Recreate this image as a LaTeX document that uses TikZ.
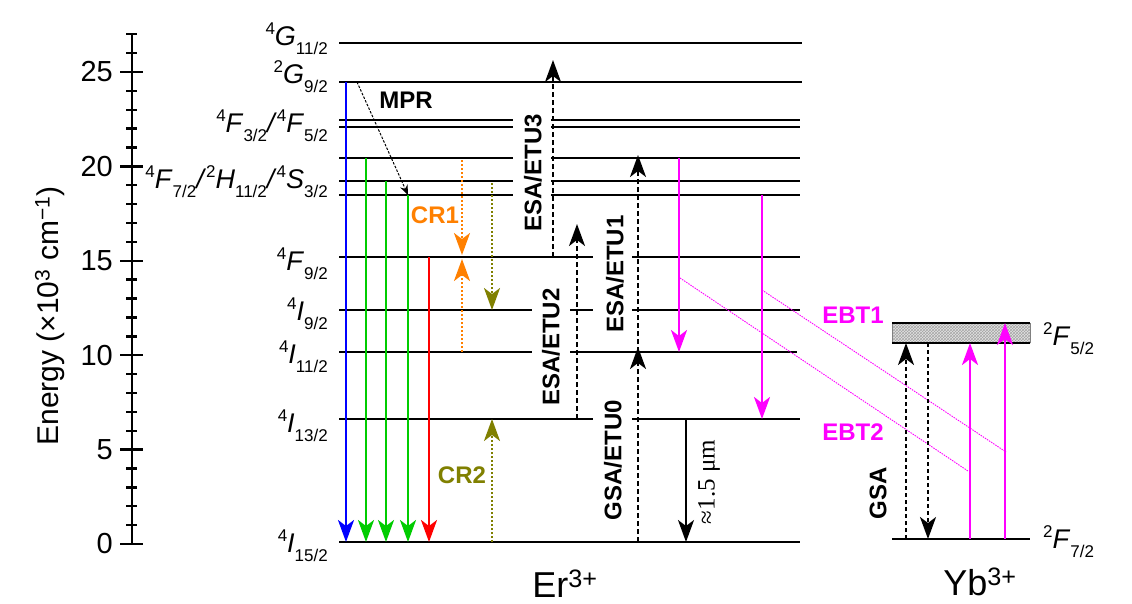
\documentclass[tikz,border=0pt]{standalone}
\usepackage{fontspec}
\setmainfont{Liberation Sans}
\newfontfamily\serifft{Liberation Serif}
\usetikzlibrary{arrows.meta,patterns}
\definecolor{cgreen}{RGB}{0,204,0}
\definecolor{corange}{RGB}{255,128,0}
\definecolor{colive}{RGB}{128,128,0}
\definecolor{cmag}{RGB}{255,0,255}
\newcommand{\trm}[3]{\raisebox{11pt}{\fontsize{17}{17}\selectfont #1}\textit{#2}\raisebox{-9pt}{\fontsize{17}{17}\selectfont #3}}
\begin{document}
\begin{tikzpicture}[x=1pt,y=-1pt,
  lev/.style={line width=2.8pt},
  bigtip/.style={-{Stealth[length=22pt,width=16pt,inset=6pt]}},
  emi/.style={bigtip,line width=2.6pt},
  dsh/.style={bigtip,line width=2pt,dash pattern=on 5pt off 3pt},
  dtt/.style={bigtip,line width=2.2pt,dash pattern=on 2pt off 2pt},
  ebt/.style={cmag,line width=0.9pt,dash pattern=on 1.5pt off 1pt},
  axl/.style={line width=2.6pt},
  plbl/.style={font=\fontsize{24}{24}\selectfont\bfseries,inner sep=0pt},
  term/.style={font=\fontsize{27}{27}\selectfont,anchor=base east,inner sep=0pt},
  tick/.style={font=\fontsize{29}{29}\selectfont,anchor=east,inner sep=0pt},
]
\useasboundingbox (0,0) rectangle (1132,603);
\fill[white] (0,0) rectangle (1132,603);
% level heights
\def\yA{43}\def\yB{82}\def\yC{120}\def\yCC{127}\def\yD{158}\def\yE{181}\def\yF{195}
\def\yG{257}\def\yH{310}\def\yI{352}\def\yJ{419}\def\yK{542}
% axis
\draw[axl] (132,544) -- (132,34);
\foreach \e in {0,...,27} \draw[line width=2.4pt] (126,{544-18.88*\e}) -- (137,{544-18.88*\e});
\foreach \e in {0,5,...,25} {
  \draw[line width=2.4pt] (120,{544-18.88*\e}) -- (143,{544-18.88*\e});
  \node[tick] (t\e) at (113,{544-18.88*\e}) {\e};
}
\node[rotate=90,font=\fontsize{30}{30}\selectfont] (ylab) at (50,316) {Energy (\texttimes10\textsuperscript{3} cm\textsuperscript{\textminus1})};
% Er levels
\draw[lev] (339,\yA) -- (802,\yA);
\draw[lev] (339,\yB) -- (802,\yB);
\foreach \y in {\yC,\yCC,\yD,\yE,\yF} {
  \draw[lev] (339,\y) -- (513,\y);
  \draw[lev] (551,\y) -- (800,\y);
}
\draw[lev] (339,\yG) -- (593,\yG);  \draw[lev] (632,\yG) -- (800,\yG);
\draw[lev] (339,\yH) -- (532,\yH);  \draw[lev] (570,\yH) -- (593,\yH); \draw[lev] (632,\yH) -- (800,\yH);
\draw[lev] (339,\yI) -- (532,\yI);  \draw[lev] (570,\yI) -- (797,\yI);
\draw[lev] (339,\yJ) -- (593,\yJ);  \draw[lev] (632,\yJ) -- (800,\yJ);
\draw[lev] (339,\yK) -- (800,\yK);
% term labels
\node[term] (lA) at (328,45) {\trm{4}{G}{11/2}};
\node[term] (lB) at (328,83) {\trm{2}{G}{9/2}};
\node[term] (lC) at (328,132) {\trm{4}{F}{3/2}\textit{/}\trm{4}{F}{5/2}};
\node[term] (lD) at (328,188) {\trm{4}{F}{7/2}\textit{/}\trm{2}{H}{11/2}\textit{/}\trm{4}{S}{3/2}};
\node[term] (lG) at (328,270) {\trm{4}{F}{9/2}};
\node[term] (lH) at (328,320) {\trm{4}{I}{9/2}};
\node[term] (lI) at (328,363) {\trm{4}{I}{11/2}};
\node[term] (lJ) at (328,432) {\trm{4}{I}{13/2}};
\node[term] (lK) at (328,552) {\trm{4}{I}{15/2}};
% emissions
\draw[emi,blue] (346,\yB) -- (346,\yK);
\draw[emi,cgreen] (366,\yD) -- (366,\yK);
\draw[emi,cgreen] (386,\yE) -- (386,\yK);
\draw[emi,cgreen] (408,\yF) -- (408,\yK);
\draw[emi,red] (429,\yG) -- (429,\yK);
% MPR
\draw[line width=1pt,dash pattern=on 2.5pt off 1.5pt,-{Stealth[length=10pt,width=8pt]}] (357,\yB) -- (408,\yF);
\node[plbl] (mpr) at (406,100) {MPR};
% CR1
\draw[dtt,corange] (462,160) -- (462,255);
\draw[dtt,corange] (462,\yI) -- (462,259);
\node[plbl,text=corange] (cr1) at (435,215) {CR1};
% olive / CR2
\draw[dtt,colive] (492,183) -- (492,\yH);
\draw[dtt,colive] (492,\yK) -- (492,\yJ);
\node[plbl,text=colive] (cr2) at (462,475) {CR2};
% ESA / ETU
\draw[dsh] (553,\yG) -- (553,60);
\node[plbl,rotate=90] (e3) at (533,173) {ESA/ETU3};
\draw[dsh] (577,\yJ) -- (577,224);
\node[plbl,rotate=90] (e2) at (551,347) {ESA/ETU2};
\draw[dsh] (638,\yI) -- (638,155);
\node[plbl,rotate=90] (e1) at (615,274) {ESA/ETU1};
\draw[dsh] (638,\yK) -- (638,347);
\node[plbl,rotate=90] (e0) at (613,460) {GSA/ETU0};
% 1.5 um
\draw[bigtip,line width=2pt] (686,\yJ) -- (686,\yK);
\node[rotate=90,font=\serifft\fontsize{25}{25}\selectfont,inner sep=0pt] (um) at (709,482) {≈1.5 μm};
% magenta Er
\draw[emi,cmag] (679,\yD) -- (679,\yI);
\draw[emi,cmag] (762,\yF) -- (762,\yJ);
% EBT lines
\draw[ebt] (680,278) -- (968,471);
\draw[ebt] (762,290) -- (1006,452);
\node[plbl,text=cmag] (ebt1) at (853,315) {EBT1};
\node[plbl,text=cmag] (ebt2) at (853,432) {EBT2};
% Yb levels
\fill[gray!22] (892,323) rectangle (1030,343);
\fill[pattern=crosshatch,pattern color=gray!70] (892,323) rectangle (1030,343);
\draw[gray,line width=0.6pt] (892,323) -- (892,343) (1030,323) -- (1030,343);
\draw[lev] (892,323) -- (1030,323);
\draw[lev] (892,343) -- (1030,343);
\draw[lev] (892,539) -- (1030,539);
\draw[dsh,line width=2.2pt,dash pattern=on 4pt off 3pt] (906,539) -- (906,343);
\draw[dsh,line width=2.2pt,dash pattern=on 4pt off 3pt] (928,343) -- (928,539);
\draw[emi,cmag] (970,539) -- (970,343);
\draw[emi,cmag] (1005,539) -- (1005,323);
\node[plbl,rotate=90] (gsa) at (878,493) {GSA};
\node[term,anchor=base west] (y5) at (1043,345) {\trm{2}{F}{5/2}};
\node[term,anchor=base west] (y7) at (1043,548) {\trm{2}{F}{7/2}};
% ion labels
\node[anchor=base,font=\fontsize{36}{36}\selectfont,inner sep=0pt] (er) at (565,597) {Er\textsuperscript{3+}};
\node[anchor=base,font=\fontsize{36}{36}\selectfont,inner sep=0pt] (yb) at (980,595) {Yb\textsuperscript{3+}};
\end{tikzpicture}
\end{document}
